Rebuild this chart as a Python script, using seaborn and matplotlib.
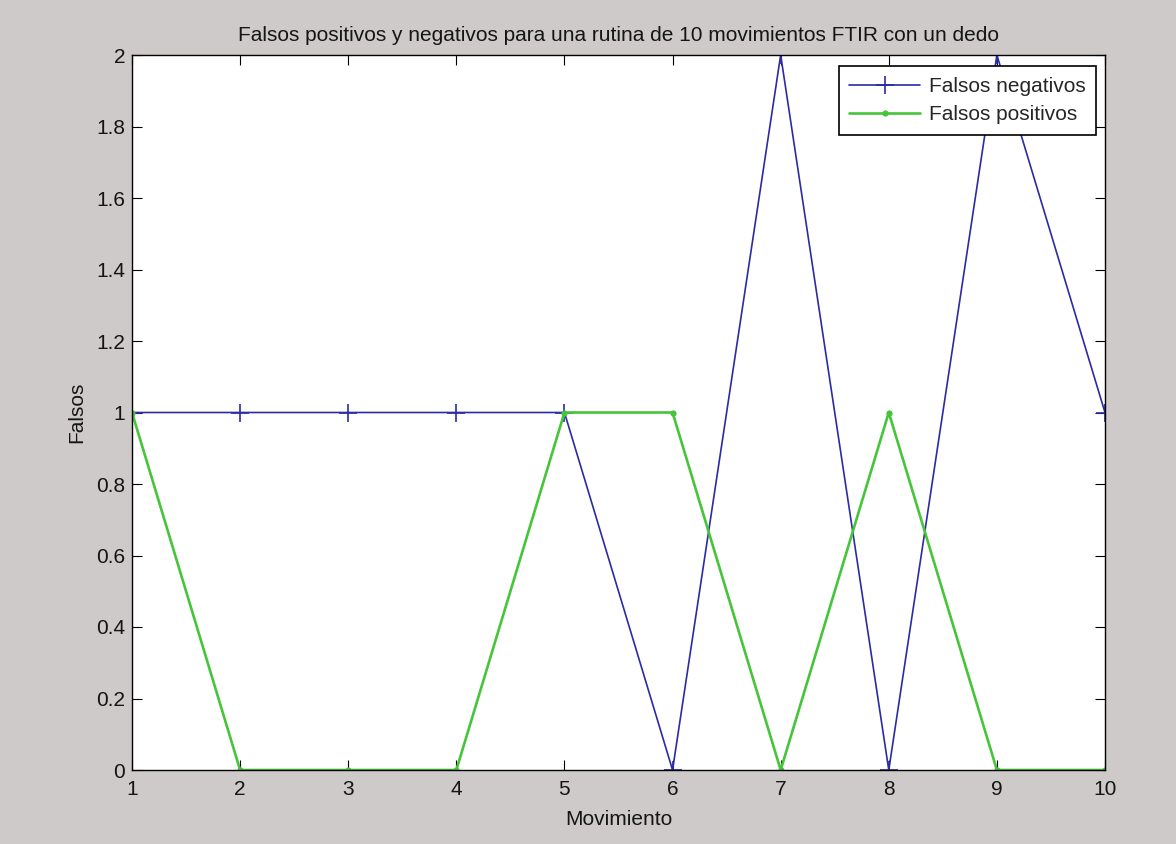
import matplotlib
matplotlib.use("Agg")
import matplotlib.pyplot as plt
import seaborn as sns
import pandas as pd

# Movement index and false-detection counts for the 10-move routine
movimiento = [1, 2, 3, 4, 5, 6, 7, 8, 9, 10]
falsos_negativos = [1, 1, 1, 1, 1, 0, 2, 0, 2, 1]
falsos_positivos = [1, 0, 0, 0, 1, 1, 0, 1, 0, 0]
y_ticks = [0, 0.2, 0.4, 0.6, 0.8, 1, 1.2, 1.4, 1.6, 1.8, 2]
y_tick_labels = ["0", "0.2", "0.4", "0.6", "0.8", "1", "1.2", "1.4", "1.6", "1.8", "2"]

df = pd.DataFrame({
    "Movimiento": movimiento,
    "Falsos negativos": falsos_negativos,
    "Falsos positivos": falsos_positivos,
})

sns.set_style("white")
plt.rcParams["font.family"] = ["Liberation Sans", "DejaVu Sans"]

bg = "#cdcac9"
blue = "#2b2ba3"
green = "#46c43a"
txt = "#151515"
fs = 15

fig = plt.figure(figsize=(11.76, 8.44), dpi=100, facecolor=bg)
ax = fig.add_axes([132 / 1176, 1 - 770 / 844, (1105 - 132) / 1176, (770 - 55) / 844])
ax.set_facecolor("white")

sns.lineplot(data=df, x="Movimiento", y="Falsos negativos", ax=ax,
             color=blue, linewidth=1.2, marker="+", markersize=13,
             markeredgewidth=1.2, markeredgecolor=blue,
             label="Falsos negativos")
sns.lineplot(data=df, x="Movimiento", y="Falsos positivos", ax=ax,
             color=green, linewidth=1.9, marker="o", markersize=4.5,
             markeredgewidth=0, markerfacecolor=green,
             label="Falsos positivos")

ax.set_xlim(1, 10)
ax.set_ylim(0, 2)
ax.set_xticks(movimiento)
ax.set_xticklabels([str(m) for m in movimiento])
ax.set_yticks(y_ticks)
ax.set_yticklabels(y_tick_labels)

ax.tick_params(direction="in", length=7, width=0.8, color="black",
               top=True, right=True, bottom=True, left=True,
               labelsize=fs, labelcolor=txt)
ax.tick_params(axis="y", pad=5)
ax.tick_params(axis="x", pad=7)
for s in ax.spines.values():
    s.set_visible(True)
    s.set_color("black")
    s.set_linewidth(1.0)

ax.set_xlabel("Movimiento", fontsize=fs, color=txt, labelpad=8)
ax.set_ylabel("Falsos", fontsize=fs, color=txt, labelpad=7)
ax.set_title("Falsos positivos y negativos para una rutina de 10 movimientos FTIR con un dedo",
             fontsize=fs, color=txt, pad=10)

leg = ax.legend(loc="upper right", bbox_to_anchor=(0.9905, 0.984), frameon=True,
                fancybox=False, edgecolor="black", fontsize=fs,
                handlelength=3.4, handletextpad=0.4, borderpad=0.5,
                labelspacing=0.45, borderaxespad=0)
leg.get_frame().set_linewidth(1.2)
leg.get_frame().set_alpha(1)

fig.savefig("out.png", dpi=100, facecolor=bg)
